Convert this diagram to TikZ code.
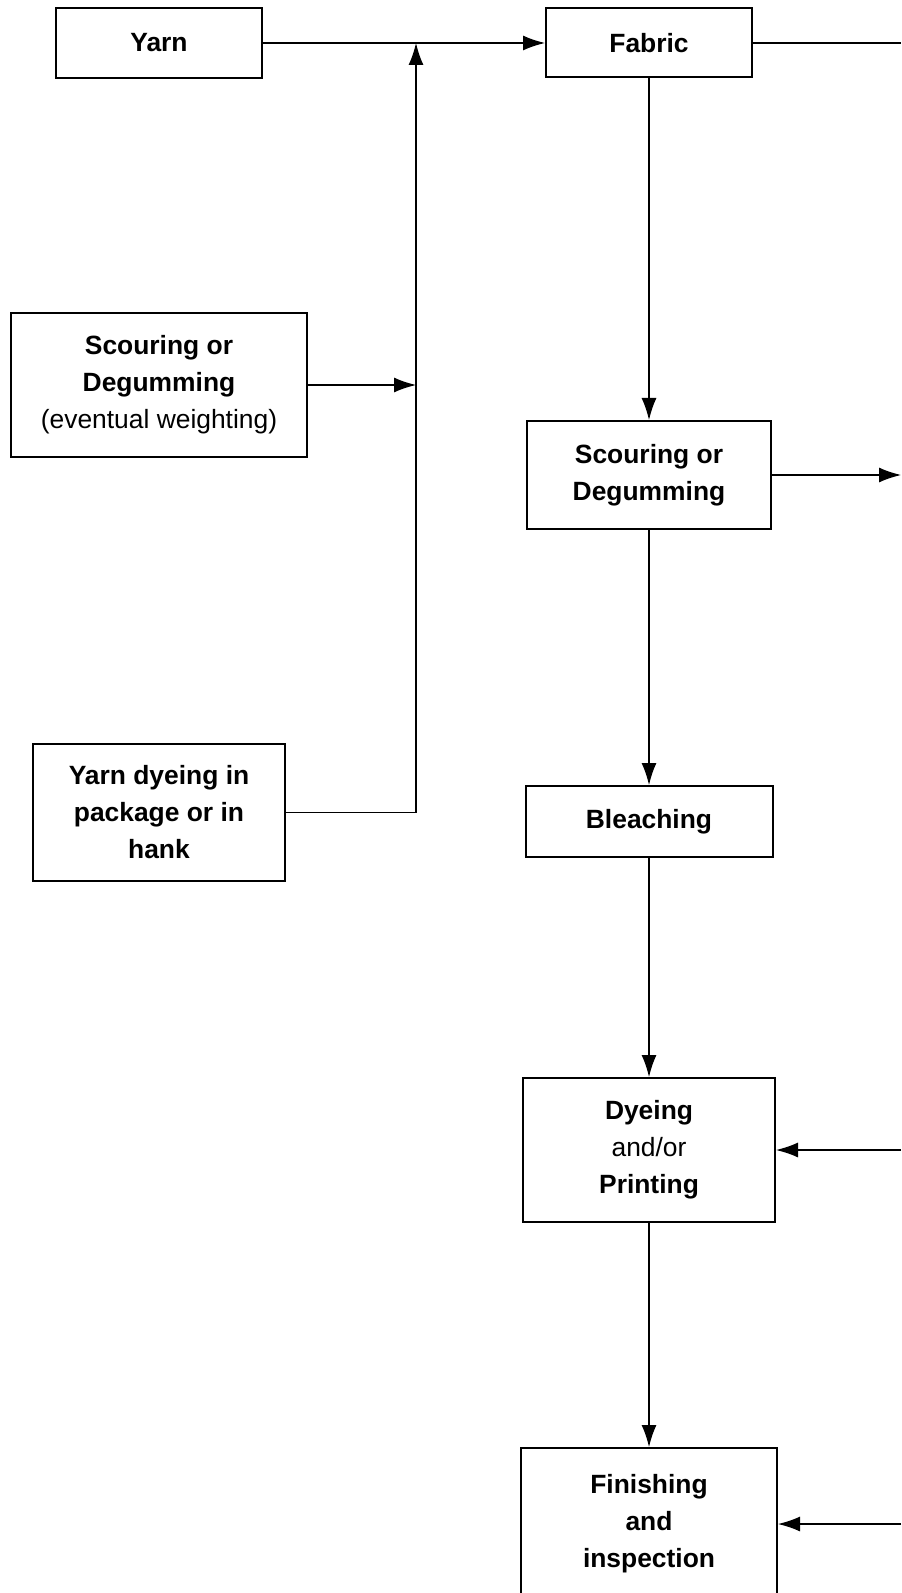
\documentclass[tikz,border=0pt]{standalone}
\usepackage{fontspec}
\setmainfont{Liberation Sans}
\usetikzlibrary{arrows.meta,positioning,calc}
\tikzstyle{proc} = [draw, rectangle, align=center, line width=1pt, text=black, inner sep=2pt, font=\fontsize{13.2}{18.5}\selectfont]
\tikzstyle{arr} = [draw, line width=0.6pt, -{Latex[length=11pt,width=7.5pt]}]
\tikzstyle{line} = [draw, line width=0.6pt]

\begin{document}
\begin{tikzpicture}[x=0.5pt, y=-0.5pt]
    \useasboundingbox (0,0) rectangle (901,1593);

    \node [proc, minimum width=103pt, minimum height=35pt] (yarn) at (159,43) {\textbf{Yarn}};
    \node [proc, minimum width=148pt, minimum height=71.5pt] (scour1) at (159,385) {\textbf{Scouring or}\\\textbf{Degumming}\\(eventual weighting)};
    \node [proc, minimum width=126pt, minimum height=68.5pt] (ydye) at (159,812.5) {\textbf{Yarn dyeing in}\\\textbf{package or in}\\\textbf{hank}};

    \node [proc, minimum width=103pt, minimum height=34.5pt] (fabric) at (649,43) {\textbf{Fabric}};
    \node [proc, minimum width=122pt, minimum height=54pt] (scour2) at (649,475) {\textbf{Scouring or}\\\textbf{Degumming}};
    \node [proc, minimum width=123.5pt, minimum height=35.5pt] (bleach) at (649,821.5) {\textbf{Bleaching}};
    \node [proc, minimum width=126pt, minimum height=72pt] (dye) at (649,1150) {\textbf{Dyeing}\\and/or\\\textbf{Printing}};
    \node [proc, minimum width=128pt, minimum height=76pt] (finish) at (649,1524) {\textbf{Finishing}\\\textbf{and}\\\textbf{inspection}};

    \coordinate (j1) at (416,43);
    \coordinate (j2) at (416,385);
    \coordinate (e1) at (901,43);
    \coordinate (e2) at (901,475);
    \coordinate (e3) at (901,1150);
    \coordinate (e4) at (901,1524);

    \draw [line] (yarn) -- (j1);
    \draw [arr] (j1) -- (fabric);
    \draw [arr] (ydye) -| (j1);
    \draw [arr] (scour1) -- (j2);
    \draw [line] (fabric) -- (e1);

    \draw [arr] (fabric) -- (scour2);
    \draw [arr] (scour2) -- (bleach);
    \draw [arr] (bleach) -- (dye);
    \draw [arr] (dye) -- (finish);

    \draw [arr] (scour2) -- (e2);
    \draw [arr] (e3) -- (dye);
    \draw [arr] (e4) -- (finish);
\end{tikzpicture}
\end{document}
